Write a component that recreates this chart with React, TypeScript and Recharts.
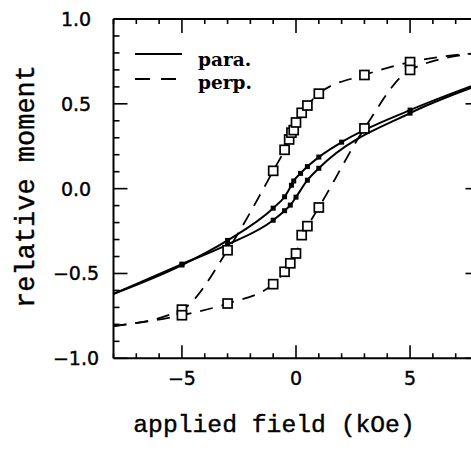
import React from 'react';
import { LineChart, Line, XAxis, YAxis, ReferenceLine, Legend } from 'recharts';

// ---- data ----
const paraDownX = [-8, -5, -3, -1, -0.5, -0.2, -0.1, 0.2, 0.5, 1, 2, 5, 8];
const paraDownY = [-0.62, -0.45, -0.305, -0.115, -0.048, 0.02, 0.045, 0.09, 0.13, 0.186, 0.274, 0.463, 0.62];

const paraUpX = [-8, -5, -3, -1, -0.5, -0.25, 0, 0.5, 1, 5, 8];
const paraUpY = [-0.62, -0.445, -0.33, -0.186, -0.13, -0.097, -0.05, 0.05, 0.12, 0.445, 0.61];

const perpDownX = [-8, -5, -3, -1, -0.5, -0.3, -0.2, -0.1, 0, 0.25, 0.5, 1, 3, 5, 8];
const perpDownY = [-0.81, -0.713, -0.363, 0.105, 0.229, 0.29, 0.33, 0.345, 0.39, 0.447, 0.49, 0.56, 0.67, 0.746, 0.8];

const perpUpX = [-8, -5, -3, -1, -0.5, -0.25, 0, 0.25, 0.5, 1, 3, 5, 8];
const perpUpY = [-0.81, -0.746, -0.677, -0.563, -0.49, -0.44, -0.382, -0.274, -0.221, -0.111, 0.355, 0.7, 0.8];

const xTicks = [-8, -7, -6, -5, -4, -3, -2, -1, 0, 1, 2, 3, 4, 5, 6, 7, 8];
const xMajor = [-5, 0, 5];
const xLabels = ['\u22125', '0', '5'];

const yTicks = [-1, -0.9, -0.8, -0.7, -0.6, -0.5, -0.4, -0.3, -0.2, -0.1, 0, 0.1, 0.2, 0.3, 0.4, 0.5, 0.6, 0.7, 0.8, 0.9, 1];
const yMajor = [-1, -0.5, 0, 0.5, 1];
const yLabels = ['\u22121.0', '\u22120.5', '0.0', '0.5', '1.0'];

const zip = (xs: number[], ys: number[]) => xs.map((x, i) => ({ x, y: ys[i] }));
const paraDown = zip(paraDownX, paraDownY);
const paraUp = zip(paraUpX, paraUpY);
const perpDown = zip(perpDownX, perpDownY);
const perpUp = zip(perpUpX, perpUpY);

// ---- layout ----
const W = 495;
const H = 450;
const TOP = 19;
const BOTTOM = 358.3;
const LEFT = 113.5;
const RIGHT = 478.5;
const M = { top: TOP, right: W - RIGHT, bottom: H - BOTTOM - 1, left: LEFT - 1 };

const XTick = (p: any) => {
  const v = p.payload.value;
  const idx = xMajor.indexOf(v);
  const major = idx >= 0;
  const x = p.x;
  return (
    <g>
      <line x1={x} x2={x} y1={BOTTOM} y2={BOTTOM - (major ? 13 : 5)} stroke="#000" strokeWidth={1.6} />
      <line x1={x} x2={x} y1={TOP} y2={TOP + (major ? 14 : 5)} stroke="#000" strokeWidth={1.6} />
      {major && (
        <text x={x} y={385} textAnchor="middle" fontFamily="DejaVu Sans" fontSize={19} fill="#000" stroke="#000" strokeWidth={0.4}>
          {xLabels[idx]}
        </text>
      )}
    </g>
  );
};

const YTick = (p: any) => {
  const v = p.payload.value;
  const idx = yMajor.findIndex((m) => Math.abs(m - v) < 1e-6);
  const major = idx >= 0;
  const y = p.y;
  return (
    <g>
      <line x1={LEFT} x2={LEFT + (major ? 14 : 6)} y1={y} y2={y} stroke="#000" strokeWidth={1.6} />
      <line x1={RIGHT} x2={RIGHT - (major ? 13 : 6)} y1={y} y2={y} stroke="#000" strokeWidth={1.6} />
      {major && (
        <text x={76} y={y + 7} textAnchor="middle" fontFamily="DejaVu Sans" fontSize={19} fill="#000" stroke="#000" strokeWidth={0.4}>
          {yLabels[idx]}
        </text>
      )}
    </g>
  );
};

const paraDot = (p: any) => {
  const { cx, cy, payload, index } = p;
  if (Math.abs(payload.x) >= 8) return <g key={`pa${index}`} />;
  return <rect key={`pa${index}`} x={cx - 2.5} y={cy - 2.5} width={5} height={5} fill="#000" />;
};

const perpDot = (p: any) => {
  const { cx, cy, payload, index } = p;
  if (Math.abs(payload.x) >= 8) return <g key={`pe${index}`} />;
  return (
    <rect key={`pe${index}`} x={cx - 4.5} y={cy - 4.5} width={9} height={9} fill="#fff" stroke="#000" strokeWidth={1.7} />
  );
};

const LegendBox = () => (
  <svg width={150} height={60} style={{ display: 'block' }}>
    <line x1={5} x2={52} y1={14} y2={14} stroke="#000" strokeWidth={2} />
    <line x1={5} x2={46} y1={39} y2={39} stroke="#000" strokeWidth={2} strokeDasharray="15 11" />
    <text x={68} y={25.5} fontFamily="DejaVu Serif" fontWeight="bold" fontSize={18.5} fill="#000">para.</text>
    <text x={68} y={49} fontFamily="DejaVu Serif" fontWeight="bold" fontSize={18.5} fill="#000">perp.</text>
  </svg>
);

const XTitle = () => (
  <text x={274} y={432} textAnchor="middle" fontFamily="Liberation Mono" fontSize={24.7} fill="#000" stroke="#000" strokeWidth={0.4}>
    applied field (kOe)
  </text>
);

const YTitle = () => (
  <text
    x={0}
    y={0}
    transform={`translate(34, 186.5) rotate(-90)`}
    textAnchor="middle"
    fontFamily="Liberation Mono"
    fontSize={27}
    fill="#000"
    stroke="#000"
    strokeWidth={0.4}
  >
    relative moment
  </text>
);

export default function App() {
  return (
    <div style={{ position: 'absolute', left: 0, top: 0, width: 471, height: 450, overflow: 'hidden', background: '#fff' }}>
      <LineChart width={W} height={H} margin={M}>
        <XAxis
          type="number"
          dataKey="x"
          domain={[-8, 8]}
          ticks={xTicks}
          interval={0}
          height={1}
          axisLine={false}
          tickLine={false}
          tick={<XTick />}
          allowDataOverflow
          label={{ content: <XTitle /> }}
        />
        <YAxis
          type="number"
          domain={[-1, 1]}
          ticks={yTicks}
          interval={0}
          width={1}
          axisLine={false}
          tickLine={false}
          tick={<YTick />}
          allowDataOverflow
          label={{ content: <YTitle /> }}
        />
        <ReferenceLine y={1} stroke="#000" strokeWidth={2} />
        <ReferenceLine y={-1} stroke="#000" strokeWidth={2} />
        <ReferenceLine x={-8} stroke="#000" strokeWidth={2} />
        <ReferenceLine x={8} stroke="#000" strokeWidth={2} />
        <Legend
          layout="horizontal"
          verticalAlign="middle"
          align="center"
          content={<LegendBox />}
          wrapperStyle={{ left: 130, top: 40, width: 150, height: 60 }}
        />
        <Line data={paraDown} dataKey="y" type="monotone" stroke="#000" strokeWidth={2} dot={paraDot} isAnimationActive={false} legendType="none" />
        <Line data={paraUp} dataKey="y" type="monotone" stroke="#000" strokeWidth={2} dot={paraDot} isAnimationActive={false} legendType="none" />
        <Line data={perpDown} dataKey="y" type="monotone" stroke="#000" strokeWidth={1.8} strokeDasharray="13 9" dot={perpDot} isAnimationActive={false} legendType="none" />
        <Line data={perpUp} dataKey="y" type="monotone" stroke="#000" strokeWidth={1.8} strokeDasharray="13 9" dot={perpDot} isAnimationActive={false} legendType="none" />
      </LineChart>
    </div>
  );
}
